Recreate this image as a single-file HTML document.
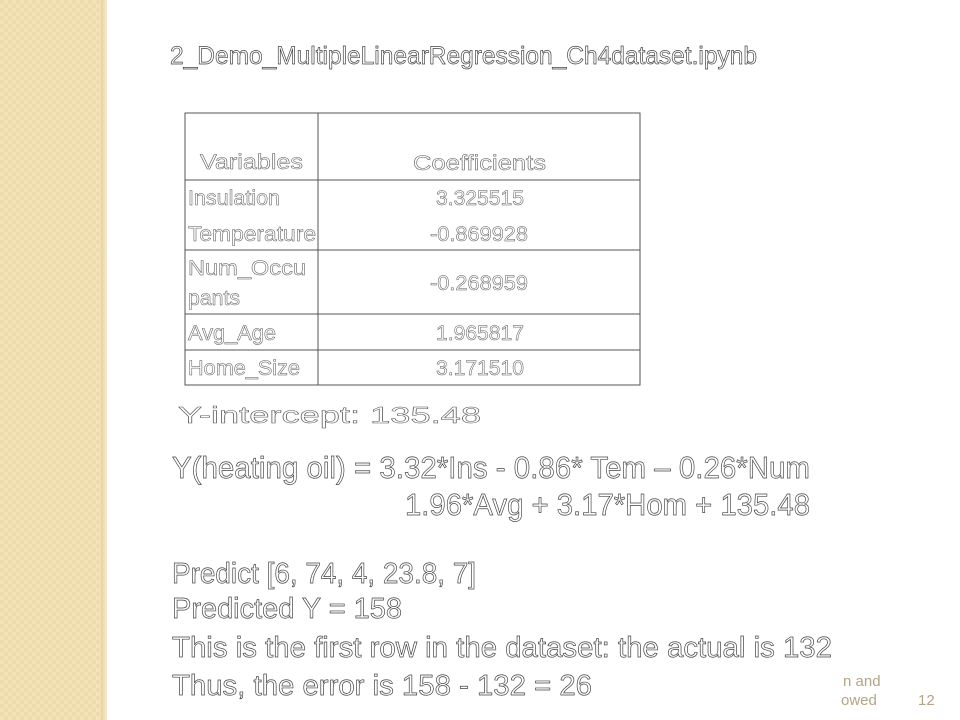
<!DOCTYPE html>
<html><head><meta charset="utf-8"><style>
html,body{margin:0;padding:0;background:#fff;}
svg{display:block;}
text{font-family:"Liberation Sans",sans-serif;}
.o{fill:#fff;stroke:#444;stroke-width:0.7px;}
.t{fill:#fff;stroke:#555;stroke-width:0.5px;}
</style></head><body>
<svg width="960" height="720" viewBox="0 0 960 720">
<defs>
<pattern id="chk" width="8" height="8" patternUnits="userSpaceOnUse">
<rect width="8" height="8" fill="#f3e3b8"/>
<rect width="4" height="4" fill="#efdcaa"/>
<rect x="4" y="4" width="4" height="4" fill="#efdcaa"/>
</pattern>
<linearGradient id="edge" x1="0" x2="1"><stop offset="0" stop-color="#e8d29e"/><stop offset="1" stop-color="#f6ead0"/></linearGradient>
</defs>
<g>
<rect x="0" y="0" width="103" height="720" fill="url(#chk)"/>
<rect x="101" y="0" width="6" height="720" fill="url(#edge)"/>
</g>
<text class="o" x="170" y="64" font-size="25" textLength="587" lengthAdjust="spacingAndGlyphs">2_Demo_MultipleLinearRegression_Ch4dataset.ipynb</text>
<g stroke="#555" stroke-width="1" fill="none">
<rect x="185" y="113" width="455" height="272"/>
<line x1="318" y1="113" x2="318" y2="385"/>
<line x1="185" y1="180" x2="640" y2="180"/>
<line x1="185" y1="250" x2="640" y2="250"/>
<line x1="185" y1="314" x2="640" y2="314"/>
<line x1="185" y1="350" x2="640" y2="350"/>
</g>
<g font-size="21">
<text class="t" x="200" y="169" textLength="103" lengthAdjust="spacingAndGlyphs">Variables</text>
<text class="t" x="413" y="170" textLength="133" lengthAdjust="spacingAndGlyphs">Coefficients</text>
<text class="t" x="188" y="205" textLength="92" lengthAdjust="spacingAndGlyphs">Insulation</text>
<text class="t" x="436" y="205" textLength="88" lengthAdjust="spacingAndGlyphs">3.325515</text>
<text class="t" x="188" y="241" textLength="128" lengthAdjust="spacingAndGlyphs">Temperature</text>
<text class="t" x="430" y="241" textLength="98" lengthAdjust="spacingAndGlyphs">-0.869928</text>
<text class="t" x="188" y="275" textLength="118" lengthAdjust="spacingAndGlyphs">Num_Occu</text>
<text class="t" x="188" y="305" textLength="52" lengthAdjust="spacingAndGlyphs">pants</text>
<text class="t" x="430" y="290" textLength="98" lengthAdjust="spacingAndGlyphs">-0.268959</text>
<text class="t" x="188" y="340" textLength="88" lengthAdjust="spacingAndGlyphs">Avg_Age</text>
<text class="t" x="436" y="340" textLength="88" lengthAdjust="spacingAndGlyphs">1.965817</text>
<text class="t" x="188" y="375" textLength="112" lengthAdjust="spacingAndGlyphs">Home_Size</text>
<text class="t" x="436" y="375" textLength="88" lengthAdjust="spacingAndGlyphs">3.171510</text>
</g>
<text class="t" x="178" y="423" font-size="23" textLength="303" lengthAdjust="spacingAndGlyphs">Y-intercept: 135.48</text>
<g font-size="31">
<text class="o" x="172" y="478" textLength="638" lengthAdjust="spacingAndGlyphs">Y(heating oil) = 3.32*Ins - 0.86* Tem – 0.26*Num</text>
<text class="o" x="405" y="515" textLength="405" lengthAdjust="spacingAndGlyphs">1.96*Avg + 3.17*Hom + 135.48</text>
</g>
<g font-size="29">
<text class="o" x="172" y="583" textLength="304" lengthAdjust="spacingAndGlyphs">Predict [6, 74, 4, 23.8, 7]</text>
<text class="o" x="172" y="618" textLength="230" lengthAdjust="spacingAndGlyphs">Predicted Y = 158</text>
<text class="o" x="172" y="657" textLength="660" lengthAdjust="spacingAndGlyphs">This is the first row in the dataset: the actual is 132</text>
<text class="o" x="172" y="695" textLength="420" lengthAdjust="spacingAndGlyphs">Thus, the error is 158 - 132 = 26</text>
</g>
<g fill="#b3a585" font-size="15">
<text x="843" y="686">n and</text>
<text x="841" y="705">owed</text>
<text x="918" y="705">12</text>
</g>
</svg>
</body></html>
